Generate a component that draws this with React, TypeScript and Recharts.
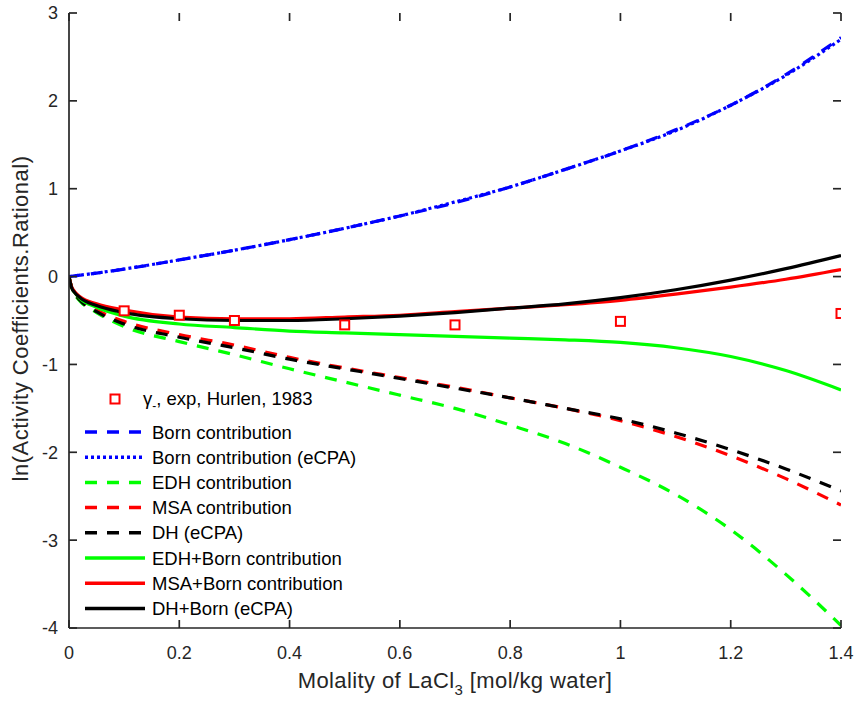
import { ComposedChart, Legend, Line, XAxis, YAxis } from 'recharts';

const FONT = '"Liberation Sans", Arial, Helvetica, sans-serif';
const AXIS = '#262626';
const AXIS_W = 1.7;
const TICK_LEN = 8;
const X_TICK_GAP = 18;
const Y_TICK_GAP = 11;

const CHART_W = 856;
const CHART_H = 702;
const MARGIN = { top: 13, right: 15, bottom: 14, left: 9 };
const X_AXIS_H = 60;
const Y_AXIS_W = 60;

// molality grid [mol/kg water] shared by every model curve
const molality = [0, 0.005, 0.01, 0.02, 0.05, 0.1, 0.2, 0.3, 0.4, 0.5, 0.6, 0.7, 0.8, 0.9, 1.0, 1.1, 1.2, 1.3, 1.4];

const bornContribution = [0, 0.004, 0.008, 0.016, 0.04, 0.085, 0.19, 0.3, 0.42, 0.55, 0.69, 0.84, 1.02, 1.22, 1.43, 1.67, 1.95, 2.3, 2.72];
const bornEcpa = [0, 0.004, 0.008, 0.016, 0.04, 0.086, 0.19, 0.3, 0.42, 0.55, 0.69, 0.85, 1.02, 1.22, 1.43, 1.66, 1.95, 2.29, 2.7];
const edhContribution = [0, -0.14, -0.2, -0.28, -0.41, -0.57, -0.74, -0.89, -1.05, -1.2, -1.35, -1.5, -1.69, -1.9, -2.17, -2.48, -2.88, -3.39, -3.97];
const msaContribution = [0, -0.13, -0.19, -0.26, -0.38, -0.51, -0.66, -0.78, -0.92, -1.04, -1.15, -1.26, -1.38, -1.5, -1.64, -1.82, -2.04, -2.3, -2.6];
const dhEcpa = [0, -0.13, -0.19, -0.27, -0.4, -0.54, -0.69, -0.81, -0.94, -1.05, -1.16, -1.27, -1.38, -1.5, -1.62, -1.78, -1.97, -2.19, -2.44];
const edhBorn = [0, -0.13, -0.18, -0.25, -0.35, -0.45, -0.54, -0.58, -0.62, -0.64, -0.66, -0.68, -0.7, -0.72, -0.75, -0.81, -0.91, -1.07, -1.29];
const msaBorn = [0, -0.12, -0.17, -0.23, -0.31, -0.38, -0.46, -0.48, -0.48, -0.46, -0.44, -0.4, -0.36, -0.32, -0.27, -0.2, -0.12, -0.03, 0.08];
const dhBorn = [0, -0.13, -0.18, -0.24, -0.33, -0.41, -0.48, -0.5, -0.5, -0.48, -0.45, -0.41, -0.36, -0.31, -0.24, -0.15, -0.04, 0.09, 0.24];

// experimental mean activity coefficients (Hurlen, 1983)
const expMolality = [0.1, 0.2, 0.3, 0.5, 0.7, 1.0, 1.4];
const expLnGamma = [-0.39, -0.44, -0.5, -0.55, -0.55, -0.51, -0.42];

const xTicks = [0, 0.2, 0.4, 0.6, 0.8, 1, 1.2, 1.4];
const yTicks = [-4, -3, -2, -1, 0, 1, 2, 3];
const X_MIN = 0;
const X_MAX = 1.4;
const Y_MIN = -4;
const Y_MAX = 3;

const rows = molality.map((m, i) => {
  const k = expMolality.indexOf(m);
  return {
    m,
    exp: k >= 0 ? expLnGamma[k] : null,
    born: bornContribution[i],
    bornEcpa: bornEcpa[i],
    edh: edhContribution[i],
    msa: msaContribution[i],
    dh: dhEcpa[i],
    edhBorn: edhBorn[i],
    msaBorn: msaBorn[i],
    dhBorn: dhBorn[i],
  };
});

const DASH = '12 10';

const series = [
  { key: 'born', name: 'Born contribution', color: '#0000ff', dash: DASH },
  { key: 'bornEcpa', name: 'Born contribution (eCPA)', color: '#0000ff', dash: '3 3' },
  { key: 'edh', name: 'EDH contribution', color: '#00ff00', dash: DASH },
  { key: 'msa', name: 'MSA contribution', color: '#ff0000', dash: DASH },
  { key: 'dh', name: 'DH (eCPA)', color: '#000000', dash: DASH },
  { key: 'edhBorn', name: 'EDH+Born contribution', color: '#00ff00', dash: undefined },
  { key: 'msaBorn', name: 'MSA+Born contribution', color: '#ff0000', dash: undefined },
  { key: 'dhBorn', name: 'DH+Born (eCPA)', color: '#000000', dash: undefined },
];

// plot box that the margins and axis sizes above leave for the chart
const PLOT_L = MARGIN.left + Y_AXIS_W;
const PLOT_R = CHART_W - MARGIN.right;
const PLOT_T = MARGIN.top;
const PLOT_B = CHART_H - MARGIN.bottom - X_AXIS_H;
const xPx = (t: number) => PLOT_L + ((t - X_MIN) / (X_MAX - X_MIN)) * (PLOT_R - PLOT_L);
const yPx = (v: number) => PLOT_T + ((Y_MAX - v) / (Y_MAX - Y_MIN)) * (PLOT_B - PLOT_T);

// MATLAB-style box: inward ticks on all four sides, drawn above the plot
function BoxTicks() {
  return (
    <svg
      width={CHART_W}
      height={CHART_H}
      style={{ position: 'absolute', left: 0, top: 0, pointerEvents: 'none' }}
    >
      {xTicks.map((t) => (
        <g key={`x-${t}`} stroke={AXIS} strokeWidth={AXIS_W}>
          <line x1={xPx(t)} x2={xPx(t)} y1={PLOT_B} y2={PLOT_B - TICK_LEN} />
          <line x1={xPx(t)} x2={xPx(t)} y1={PLOT_T} y2={PLOT_T + TICK_LEN} />
        </g>
      ))}
      {yTicks.map((v) => (
        <g key={`y-${v}`} stroke={AXIS} strokeWidth={AXIS_W}>
          <line x1={PLOT_L} x2={PLOT_L + TICK_LEN} y1={yPx(v)} y2={yPx(v)} />
          <line x1={PLOT_R} x2={PLOT_R - TICK_LEN} y1={yPx(v)} y2={yPx(v)} />
        </g>
      ))}
    </svg>
  );
}

function renderBottomTick(p: any) {
  return (
    <text key={`b-${p.index}`} x={p.x} y={p.y} dy="0.71em" textAnchor="middle" fontSize={18} fill={AXIS} fontFamily={FONT}>
      {p.payload.value}
    </text>
  );
}

function renderLeftTick(p: any) {
  return (
    <text key={`l-${p.index}`} x={p.x} y={p.y} dy="0.355em" textAnchor="end" fontSize={18} fill={AXIS} fontFamily={FONT}>
      {p.payload.value}
    </text>
  );
}

function renderSquare(p: any) {
  const { cx, cy, index, value } = p;
  if (cx == null || cy == null || value == null) return <g key={`sq-${index}`} />;
  return (
    <rect key={`sq-${index}`} x={cx - 4.5} y={cy - 4.5} width={9} height={9} fill="#fff" stroke="#ff0000" strokeWidth={2} />
  );
}

function LegendBox() {
  return (
    <svg width={300} height={240} style={{ display: 'block', fontFamily: FONT }}>
      <rect x={30.5} y={9.5} width={9} height={9} fill="none" stroke="#ff0000" strokeWidth={2} />
      <text x={63} y={20} fontSize={18.5} fill="#000">
        γ
        <tspan fontSize={12} dy={5}>-</tspan>
        <tspan dy={-5}>, exp, Hurlen, 1983</tspan>
      </text>
      {series.map((s, i) => {
        const cy = 47 + i * 25.2;
        return (
          <g key={s.key}>
            <line x1={5} x2={65} y1={cy} y2={cy} stroke={s.color} strokeWidth={3.5} strokeDasharray={s.dash} />
            <text x={72} y={cy + 6.5} fontSize={18.5} fill="#000">
              {s.name}
            </text>
          </g>
        );
      })}
    </svg>
  );
}

function renderXTitle(p: any) {
  const vb = p.viewBox ?? { x: PLOT_L, width: PLOT_R - PLOT_L };
  return (
    <text x={vb.x + vb.width / 2} y={688} textAnchor="middle" fontSize={22} letterSpacing={0.4} fill={AXIS} fontFamily={FONT}>
      Molality of LaCl
      <tspan fontSize={15} dy={7}>3</tspan>
      <tspan dy={-7}> [mol/kg water]</tspan>
    </text>
  );
}

function renderYTitle(p: any) {
  const vb = p.viewBox ?? { y: PLOT_T, height: PLOT_B - PLOT_T };
  const cy = vb.y + vb.height / 2 - 2;
  return (
    <text
      x={28}
      y={cy}
      transform={`rotate(-90, 28, ${cy})`}
      textAnchor="middle"
      fontSize={22}
      letterSpacing={0.5}
      fill={AXIS}
      fontFamily={FONT}
    >
      ln(Activity Coefficients.Rational)
    </text>
  );
}

export default function App() {
  const axisLine = { stroke: AXIS, strokeWidth: AXIS_W };
  return (
    <div style={{ position: 'absolute', left: 0, top: 0, width: CHART_W, height: CHART_H, background: '#fff' }}>
      <ComposedChart width={CHART_W} height={CHART_H} data={rows} margin={MARGIN}>
        <XAxis
          dataKey="m"
          type="number"
          domain={[X_MIN, X_MAX]}
          ticks={xTicks}
          allowDataOverflow
          height={X_AXIS_H}
          tickSize={0}
          tickMargin={X_TICK_GAP}
          tick={renderBottomTick}
          tickLine={false}
          axisLine={axisLine}
          label={{ content: renderXTitle }}
        />
        <XAxis
          xAxisId="top"
          orientation="top"
          dataKey="m"
          type="number"
          domain={[X_MIN, X_MAX]}
          ticks={xTicks}
          allowDataOverflow
          height={0}
          tick={false}
          tickLine={false}
          axisLine={axisLine}
        />
        <YAxis
          type="number"
          domain={[Y_MIN, Y_MAX]}
          ticks={yTicks}
          allowDataOverflow
          width={Y_AXIS_W}
          tickSize={0}
          tickMargin={Y_TICK_GAP}
          tick={renderLeftTick}
          tickLine={false}
          axisLine={axisLine}
          label={{ content: renderYTitle }}
        />
        <YAxis
          yAxisId="right"
          orientation="right"
          type="number"
          domain={[Y_MIN, Y_MAX]}
          ticks={yTicks}
          allowDataOverflow
          width={0}
          tick={false}
          tickLine={false}
          axisLine={axisLine}
        />
        <Legend
          layout="vertical"
          align="center"
          verticalAlign="middle"
          content={() => <LegendBox />}
          wrapperStyle={{ left: 80, top: 385, width: 300, height: 240 }}
        />
        <Line
          dataKey="exp"
          stroke="none"
          isAnimationActive={false}
          connectNulls={false}
          dot={renderSquare}
          activeDot={false}
          legendType="none"
        />
        {series.map((s) => (
          <Line
            key={s.key}
            dataKey={s.key}
            name={s.name}
            type="monotone"
            stroke={s.color}
            strokeWidth={3.2}
            strokeDasharray={s.dash}
            dot={false}
            activeDot={false}
            isAnimationActive={false}
          />
        ))}
      </ComposedChart>
      <BoxTicks />
    </div>
  );
}
